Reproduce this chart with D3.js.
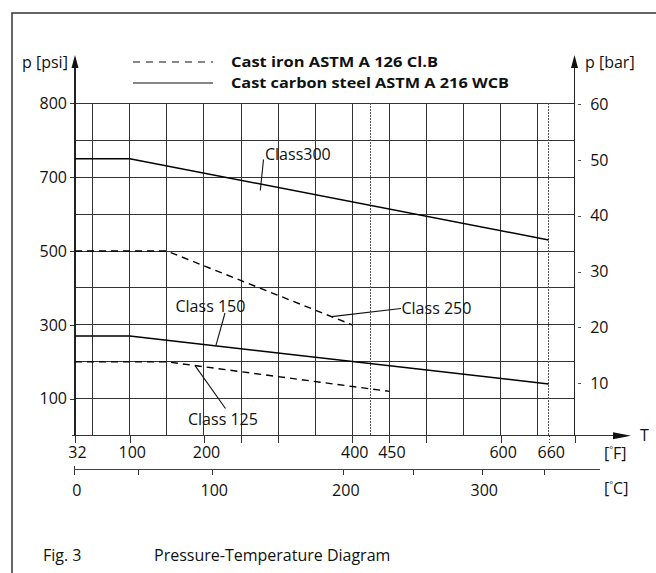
<!DOCTYPE html>
<html>
<head>
<meta charset="utf-8">
<script src="https://cdnjs.cloudflare.com/ajax/libs/d3/7.8.5/d3.min.js"></script>
<style>
  body { margin: 0; background: #fff; }
  svg text { font-family: "Open Sans", "DejaVu Sans", sans-serif; fill: #111; }
</style>
</head>
<body>
<div id="svg-container"></div>
<script>
// Pressure-temperature diagram, values.

// temperature points (degF) of each rating curve
let class300F = [32, 100, 660];
let class300Psi = [725, 725, 530];
let class150F = [32, 100, 660];
let class150Psi = [270, 270, 140];
let class250F = [32, 150, 400];
let class250Psi = [500, 500, 300];
let class125F = [32, 150, 450];
let class125Psi = [200, 200, 120];

// axis ticks
let psiTicks = [100, 300, 500, 700, 800];
let psiGrid = [100, 200, 300, 400, 500, 600, 700, 750, 800];
let barTicks = [10, 20, 30, 40, 50, 60];
let fGrid = [50, 100, 150, 200, 250, 300, 350, 400, 450, 500, 550, 600, 650];
let fTicks = [32, 100, 200, 250, 300, 400, 450, 500, 600, 660, 700];
let fLabels = [32, 100, 200, 400, 450, 600, 660];
let fDotted = [425, 660];
let cTicks = [0, 50, 100, 200, 250, 300, 350];
let cLabels = [0, 100, 200, 300];

let legendKeys = ["Cast iron ASTM A 126 Cl.B", "Cast carbon steel ASTM A 216 WCB"];

let drawChart = function(){
    let L = 75, R = 574.5, T = 103.3, B = 435.7;

    let svg = d3.select('#svg-container').append("svg")
        .attr("width", 656)
        .attr("height", 573)
        .attr('xmlns', "http://www.w3.org/2000/svg");

    // the figure is schematic: scales are piecewise like the print
    let xF = d3.scaleLinear()
        .domain([32, 50, 650, 660, 700])
        .range([L, 92.7, 537.7, 548.7, R]);
    let xC = d3.scaleLinear()
        .domain([0, 50, 100, 200, 250, 300, 350])
        .range([74.3, 137.7, 211.7, 343.3, 412.7, 481.7, 543.7]);
    let yPsi = d3.scaleLinear()
        .domain([0, 700, 800])
        .range([B, T + 2 * (B - T) / 9, T]);
    let yBar = d3.scaleLinear()
        .domain([0, 60])
        .range([B + 3, T + 1]);

    // frame
    svg.append("path")
        .attr("d", "M12,573V13H656")
        .attr("fill", "none").attr("stroke", "#333").attr("stroke-width", 1.5);

    // grid
    let grid = svg.append("g").attr("stroke", "#333").attr("stroke-width", 1)
        .attr("shape-rendering", "crispEdges");
    grid.selectAll(".hgrid").data(psiGrid).enter().append("line")
        .attr("x1", L).attr("x2", R)
        .attr("y1", d => yPsi(d)).attr("y2", d => yPsi(d));
    grid.selectAll(".vgrid").data(fGrid).enter().append("line")
        .attr("x1", d => xF(d)).attr("x2", d => xF(d))
        .attr("y1", T).attr("y2", B);
    svg.selectAll(".dotted").data(fDotted).enter().append("line")
        .attr("x1", d => xF(d)).attr("x2", d => xF(d))
        .attr("y1", T).attr("y2", B)
        .attr("stroke", "#555").attr("stroke-width", 1)
        .attr("shape-rendering", "crispEdges")
        .attr("stroke-dasharray", "1.5,1.5");

    // F axis
    let fAxis = svg.append("g")
        .attr("transform", "translate(0," + B + ")")
        .attr("shape-rendering", "crispEdges")
        .call(d3.axisBottom(xF).tickValues(fTicks).tickSize(7).tickPadding(4)
            .tickFormat(d => fLabels.includes(d) ? d : ""));
    fAxis.select(".domain").remove();
    fAxis.selectAll(".tick line").attr("stroke", "#333")
        .attr("stroke-dasharray", d => d === 660 ? "1.5,1.5" : null);
    fAxis.selectAll(".tick text").attr("font-size", 16).attr("dx", 2);

    svg.append("line").attr("x1", 72.3).attr("x2", 616).attr("y1", B).attr("y2", B)
        .attr("stroke", "#333").attr("stroke-width", 1.2)
        .attr("shape-rendering", "crispEdges");
    svg.append("path").attr("d", "M613," + (B - 3.5) + "L631," + B + "L613," + (B + 3.5) + "Z")
        .attr("fill", "#111");
    svg.append("text").attr("x", 640).attr("y", B).attr("dy", "0.35em")
        .attr("font-size", 16).text("T");

    // C axis
    let cY = 469.3;
    let cAxis = svg.append("g")
        .attr("transform", "translate(0," + cY + ")")
        .attr("shape-rendering", "crispEdges")
        .call(d3.axisBottom(xC).tickValues(cTicks).tickSize(6).tickPadding(9)
            .tickFormat(d => cLabels.includes(d) ? d : ""));
    cAxis.select(".domain").remove();
    cAxis.selectAll(".tick line").attr("stroke", "#333")
        .attr("y1", d => d === 0 ? -3 : 0);
    cAxis.selectAll(".tick text").attr("font-size", 16).attr("dx", 2);
    svg.append("line").attr("x1", 74).attr("x2", 600).attr("y1", cY).attr("y2", cY)
        .attr("stroke", "#444").attr("stroke-width", 1.2)
        .attr("shape-rendering", "crispEdges");

    // unit labels with raised degree sign
    let unitLabel = function(y, unit){
        let t = svg.append("text").attr("x", 604).attr("y", y).attr("dy", "0.35em")
            .attr("font-size", 16);
        t.append("tspan").text("[");
        t.append("tspan").attr("font-size", 9).attr("dy", -6).text("°");
        t.append("tspan").attr("dy", 6).text(unit + "]");
    };
    unitLabel(453, "F");
    unitLabel(488, "C");

    // psi axis (left)
    let psiAxis = svg.append("g")
        .attr("transform", "translate(" + L + ",0)")
        .attr("shape-rendering", "crispEdges")
        .call(d3.axisLeft(yPsi).tickValues(psiTicks).tickSize(5).tickPadding(3));
    psiAxis.select(".domain").remove();
    psiAxis.selectAll(".tick line").attr("stroke", "#333");
    psiAxis.selectAll(".tick text").attr("font-size", 16);

    // bar axis (right), ticks stand off the axis line
    let barAxis = svg.append("g")
        .attr("transform", "translate(" + (R + 3.2) + ",0)")
        .attr("shape-rendering", "crispEdges")
        .call(d3.axisRight(yBar).tickValues(barTicks).tickSize(3.5).tickPadding(9));
    barAxis.select(".domain").remove();
    barAxis.selectAll(".tick line").attr("stroke", "#555");
    barAxis.selectAll(".tick text").attr("font-size", 16);

    // vertical axes with arrows
    [L, R].forEach(function(x){
        svg.append("line").attr("x1", x).attr("x2", x).attr("y1", B).attr("y2", 60)
            .attr("stroke", "#222").attr("stroke-width", 1.2)
            .attr("shape-rendering", "crispEdges");
        svg.append("path").attr("d", "M" + (x - 3.5) + ",68L" + x + ",55L" + (x + 3.5) + ",68Z")
            .attr("fill", "#111");
    });
    svg.append("text").attr("x", 22).attr("y", 62).attr("dy", "0.35em")
        .attr("font-size", 16).text("p [psi]");
    svg.append("text").attr("x", 585).attr("y", 62).attr("dy", "0.35em")
        .attr("font-size", 16).text("p [bar]");

    // curves
    let line = d3.line()
        .x(d => xF(d[0]))
        .y(d => yPsi(d[1]));
    let curves = [
        {f: class300F, p: class300Psi, dash: null},
        {f: class150F, p: class150Psi, dash: null},
        {f: class250F, p: class250Psi, dash: "7,5"},
        {f: class125F, p: class125Psi, dash: "7,5"}
    ];
    curves.forEach(function(c){
        svg.append("path")
            .datum(d3.zip(c.f, c.p))
            .attr("d", line)
            .attr("fill", "none")
            .attr("stroke", "#000")
            .attr("stroke-width", 1.4)
            .attr("stroke-dasharray", c.dash);
    });

    // curve labels, leader ends on the curve
    let onCurve = function(c, f){
        let psi = d3.scaleLinear().domain(c.f).range(c.p)(f);
        return [xF(f), yPsi(psi)];
    };
    let notes = [
        {text: "Class300", c: curves[0], at: 276, tx: 265, ty: 154, lx: 263.5, ly: 159.5},
        {text: "Class 150", c: curves[1], at: 216, tx: 175.5, ty: 306, lx: 225, ly: 313},
        {text: "Class 250", c: curves[2], at: 372, tx: 401.5, ty: 308, lx: 401, ly: 308.5},
        {text: "Class 125", c: curves[3], at: 188, tx: 188, ty: 419.5, lx: 225.5, ly: 408.5}
    ];
    notes.forEach(function(n){
        let p = onCurve(n.c, n.at);
        svg.append("line")
            .attr("x1", n.lx).attr("y1", n.ly).attr("x2", p[0]).attr("y2", p[1])
            .attr("stroke", "#111").attr("stroke-width", 1.1);
        svg.append("text").attr("x", n.tx).attr("y", n.ty).attr("dy", "0.35em")
            .attr("font-size", 16).text(n.text);
    });

    // legend
    let lineLegend = svg.selectAll(".lineLegend").data(legendKeys)
        .enter().append("g")
        .attr("class", "lineLegend")
        .attr("transform", (d, i) => "translate(133," + (62 + i * 21) + ")");
    lineLegend.append("line")
        .attr("x1", 0).attr("x2", 80)
        .attr("stroke", "#111").attr("stroke-width", 1.2)
        .attr("stroke-dasharray", (d, i) => i === 0 ? "7,6" : null);
    lineLegend.append("text").text(d => d)
        .attr("x", 98).attr("dy", "0.35em")
        .attr("font-size", 15).attr("font-weight", "bold")
        .attr("textLength", (d, i) => i === 0 ? 207 : 278)
        .attr("lengthAdjust", "spacingAndGlyphs");

    // caption
    svg.append("text").attr("x", 43).attr("y", 555).attr("dy", "0.35em")
        .attr("font-size", 16).text("Fig. 3");
    svg.append("text").attr("x", 154).attr("y", 555).attr("dy", "0.35em")
        .attr("font-size", 16).text("Pressure-Temperature Diagram");
};

drawChart();
</script>
</body>
</html>
